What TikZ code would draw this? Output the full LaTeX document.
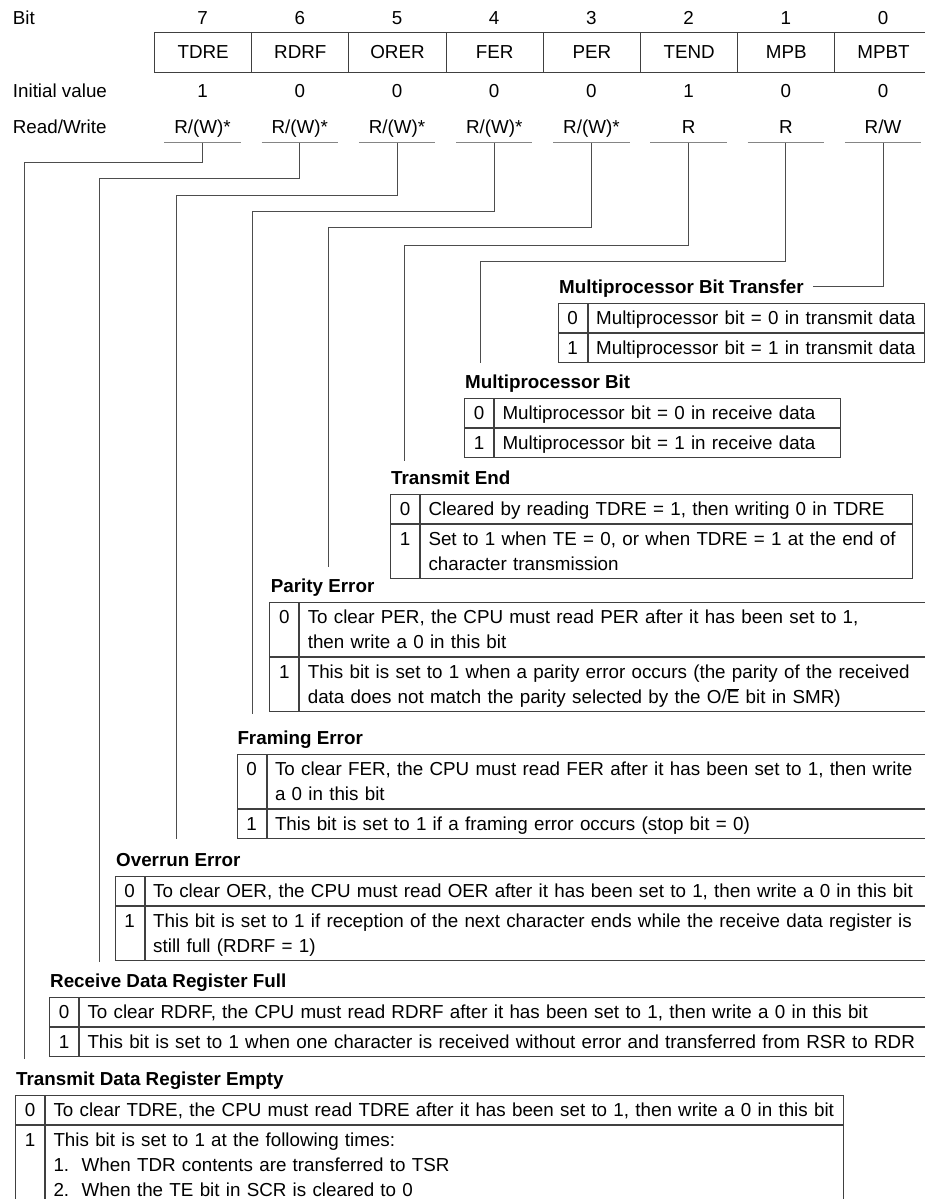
\documentclass[tikz,border=0pt]{standalone}
\usepackage{fontspec}
\setmainfont{Liberation Sans}
\usetikzlibrary{positioning, calc}
\definecolor{WireA}{HTML}{4D4D4D}
\definecolor{RuleA}{HTML}{858585}
\definecolor{CellA}{HTML}{404040}
\newcommand\bodyfont{\fontsize{18.8}{25}\selectfont}
\newcommand\rs{\rule[-6pt]{0pt}{25pt}}
\newcommand\tline[1]{\rs\mbox{#1}}
\newcommand\rwx{R/(W)*}
\newcommand\rwr{R}
\newcommand\rww{R/W}
\tikzset{
  regcell/.style={draw=CellA, line width=1pt, minimum width=97.2pt,
                  minimum height=40pt, anchor=north west, inner sep=0pt},
  hdr/.style={anchor=base west, inner sep=0pt},
  col/.style={anchor=base, inner sep=0pt},
  rwlbl/.style={anchor=south, minimum width=76pt, inner xsep=0pt,
                inner ysep=4pt, text depth=5pt},
  uline/.style={draw=RuleA, line width=1pt},
  wire/.style={draw=WireA, line width=1pt},
  ttl/.style={anchor=base west, inner sep=0pt, font=\bodyfont\bfseries},
  dcell/.style={draw=CellA, line width=1pt, anchor=north west, text width=29pt,
                align=center, inner xsep=0pt, inner ysep=2pt},
  tcell/.style={draw=CellA, line width=1pt, anchor=north west, align=left,
                inner xsep=8pt, inner ysep=2pt},
}

\begin{document}
\begin{tikzpicture}[x=1pt, y=-1pt, font=\bodyfont]
  \useasboundingbox (0,0) rectangle (925,1199);
  \clip (0,0) rectangle (925,1199);

  % register layout
  \node[hdr] (bitL) at (12.7,24.8) {Bit};
  \node[hdr] (iniL) at (12.7,97.5) {Initial value};
  \node[hdr] (rwL) at (12.7,133.5) {Read/Write};
  \foreach \bt/\nm/\iv/\rw [count=\i from 0] in
      {7/TDRE/1/\rwx, 6/RDRF/0/\rwx, 5/ORER/0/\rwx, 4/FER/0/\rwx,
       3/PER/0/\rwx, 2/TEND/1/\rwr, 1/MPB/0/\rwr, 0/MPBT/0/\rww} {
    \node[regcell] (reg\bt) at ({154+97.2*\i},32) {\nm};
    \node[col] (bit\bt) at ({202.6+97.2*\i},24.8) {\bt};
    \node[col] (ini\bt) at ({202.6+97.2*\i},97.5) {\iv};
    \node[rwlbl] (rw\bt) at ({202.6+97.2*\i},142.7) {\rw};
    \draw[uline] (rw\bt.south west) -- (rw\bt.south east);
  }

  % Multiprocessor Bit Transfer
  \node[ttl] (mpbtH) at (559,293) {Multiprocessor Bit Transfer};
  \node[dcell] (mpbt0d) at (557.7,303) {\rs 0};
  \node[tcell, text width=320pt] (mpbt0) at (mpbt0d.north east)
    {\tline{Multiprocessor bit = 0 in transmit data}};
  \node[dcell] (mpbt1d) at (mpbt0d.south west) {\rs 1};
  \node[tcell, text width=320pt] (mpbt1) at (mpbt1d.north east)
    {\tline{Multiprocessor bit = 1 in transmit data}};

  % Multiprocessor Bit
  \node[ttl] (mpbH) at (465,388) {Multiprocessor Bit};
  \node[dcell] (mpb0d) at (464,398) {\rs 0};
  \node[tcell, text width=330pt] (mpb0) at (mpb0d.north east)
    {\tline{Multiprocessor bit = 0 in receive data}};
  \node[dcell] (mpb1d) at (mpb0d.south west) {\rs 1};
  \node[tcell, text width=330pt] (mpb1) at (mpb1d.north east)
    {\tline{Multiprocessor bit = 1 in receive data}};

  % Transmit End
  \node[ttl] (tendH) at (391,484) {Transmit End};
  \node[dcell] (tend0d) at (390,494) {\rs 0};
  \node[tcell, text width=476pt] (tend0) at (tend0d.north east)
    {\tline{Cleared by reading TDRE = 1, then writing 0 in TDRE}};
  \node[dcell] (tend1d) at (tend0d.south west) {\rs 1\\\rs};
  \node[tcell, text width=476pt] (tend1) at (tend1d.north east)
    {\tline{Set to 1 when TE = 0, or when TDRE = 1 at the end of}\\
     \tline{character transmission}};

  % Parity Error
  \node[ttl] (perH) at (270.7,592) {Parity Error};
  \node[dcell] (per0d) at (269.3,602) {\rs 0\\\rs};
  \node[tcell, text width=615pt] (per0) at (per0d.north east)
    {\tline{To clear PER, the CPU must read PER after it has been set to 1,}\\
     \tline{then write a 0 in this bit}};
  \node[dcell] (per1d) at (per0d.south west) {\rs 1\\\rs};
  \node[tcell, text width=615pt] (per1) at (per1d.north east)
    {\tline{This bit is set to 1 when a parity error occurs (the parity of the received}\\
     \tline{data does not match the parity selected by the O/$\overline{\mbox{E}}$ bit in SMR)}};

  % Framing Error
  \node[ttl] (ferH) at (237.3,744) {Framing Error};
  \node[dcell] (fer0d) at (236.5,754) {\rs 0\\\rs};
  \node[tcell, text width=648pt] (fer0) at (fer0d.north east)
    {\tline{To clear FER, the CPU must read FER after it has been set to 1, then write}\\
     \tline{a 0 in this bit}};
  \node[dcell] (fer1d) at (fer0d.south west) {\rs 1};
  \node[tcell, text width=648pt] (fer1) at (fer1d.north east)
    {\tline{This bit is set to 1 if a framing error occurs (stop bit = 0)}};

  % Overrun Error
  \node[ttl] (oerH) at (116,866) {Overrun Error};
  \node[dcell] (oer0d) at (114.7,876) {\rs 0};
  \node[tcell, text width=770pt] (oer0) at (oer0d.north east)
    {\tline{To clear OER, the CPU must read OER after it has been set to 1, then write a 0 in this bit}};
  \node[dcell] (oer1d) at (oer0d.south west) {\rs 1\\\rs};
  \node[tcell, text width=770pt] (oer1) at (oer1d.north east)
    {\tline{This bit is set to 1 if reception of the next character ends while the receive data register is}\\
     \tline{still full (RDRF = 1)}};

  % Receive Data Register Full
  \node[ttl] (rdrfH) at (50,987) {Receive Data Register Full};
  \node[dcell] (rdrf0d) at (49,997) {\rs 0};
  \node[tcell, text width=836pt] (rdrf0) at (rdrf0d.north east)
    {\tline{To clear RDRF, the CPU must read RDRF after it has been set to 1, then write a 0 in this bit}};
  \node[dcell] (rdrf1d) at (rdrf0d.south west) {\rs 1};
  \node[tcell, text width=836pt] (rdrf1) at (rdrf1d.north east)
    {\tline{This bit is set to 1 when one character is received without error and transferred from RSR to RDR}};

  % Transmit Data Register Empty
  \node[ttl] (tdreH) at (16,1085) {Transmit Data Register Empty};
  \node[dcell] (tdre0d) at (15,1095) {\rs 0};
  \node[tcell, text width=782pt] (tdre0) at (tdre0d.north east)
    {\tline{To clear TDRE, the CPU must read TDRE after it has been set to 1, then write a 0 in this bit}};
  \node[dcell] (tdre1d) at (tdre0d.south west) {\rs 1\\\rs\\\rs};
  \node[tcell, text width=782pt] (tdre1) at (tdre1d.north east)
    {\tline{This bit is set to 1 at the following times:}\\
     \tline{1.\ \ When TDR contents are transferred to TSR}\\
     \tline{2.\ \ When the TE bit in SCR is cleared to 0}};

  % leader lines from each bit
  \foreach \bt/\cx/\cy/\ey in {7/24.3/162.7/1059, 6/99/178.3/961.7,
      5/176.7/195/839.3, 4/252.7/211/714, 3/328.7/227.7/567.3,
      2/404.3/245/461, 1/480.7/261.7/362.7} {
    \coordinate (c\bt) at (\cx,\cy);
    \coordinate (e\bt) at (\cx,\ey);
    \draw[wire] (rw\bt.south) |- (c\bt) -- (e\bt);
  }
  \draw[wire] (rw0.south) |- ([xshift=9pt,yshift=2pt]mpbtH.east);
\end{tikzpicture}
\end{document}
